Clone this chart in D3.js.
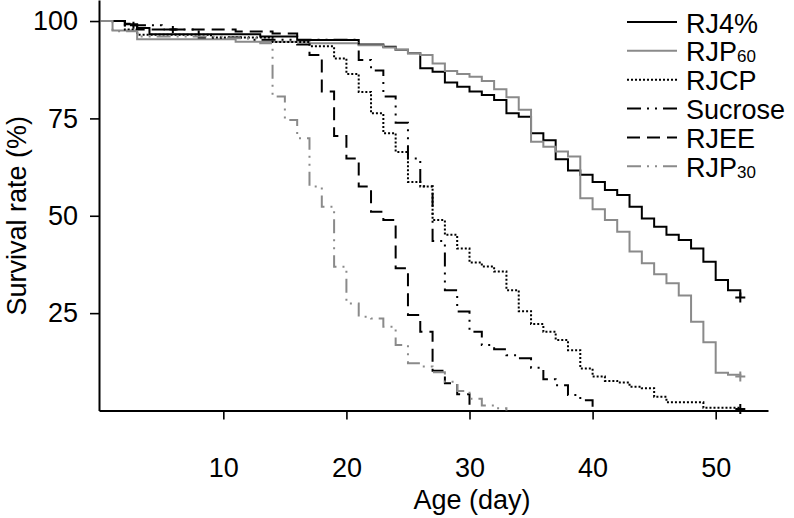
<!DOCTYPE html>
<html><head><meta charset="utf-8">
<script src="https://cdn.jsdelivr.net/npm/d3@7"></script>
<style>
body{margin:0;background:#fff}
svg{display:block}
text{font-family:"Liberation Sans",Arial,Helvetica,sans-serif;fill:#000}
</style>
</head><body>
<svg id="chart" width="794" height="518"></svg>
<script>
// ---- data (day, survival %) ----
const seriesNames = ["RJ4%", "RJP60", "RJCP", "Sucrose", "RJEE", "RJP30"];

const rj4Data = [[0,100],[2,99.2],[3,98.2],[4,96.6],[13,96.0],[16,95.1],[21,94.0],[23,93.4],[24,92.6],[25,91.7],[26,87.9],[27,87.0],[28,84.2],[29,83.1],[30,81.9],[31,81.0],[32,79.7],[33,76.3],[34,75.4],[35,71.2],[36,69.4],[37,64.5],[38,61.6],[39,60.5],[40,58.7],[41,56.6],[42,55.3],[43,52.3],[44,49.3],[45,47.2],[46,45.1],[47,43.8],[48,41.6],[49,38.2],[50,33.5],[51,30.9],[52,29.0]];

const rjp60Data = [[0,100],[1,97.6],[3,95.3],[11,94.7],[17,94.3],[21,93.8],[23,93.2],[24,92.6],[25,91.7],[26,91.3],[27,89.1],[28,87.2],[29,86.4],[30,85.7],[31,84.6],[32,82.5],[33,80.4],[34,77.2],[35,69.0],[36,67.7],[37,66.5],[38,65.2],[39,54.5],[40,51.7],[41,48.9],[42,45.9],[43,40.8],[44,37.8],[45,35.0],[46,32.7],[47,29.5],[48,22.8],[49,17.5],[50,9.7],[51,9.2],[52,8.7]];

const rjcpData = [[0,100],[2,97.8],[3,96.5],[9,95.8],[14,94.6],[17,93.5],[19,90.4],[20,86.4],[21,81.8],[22,76.3],[23,71.2],[24,66.4],[25,58.7],[26,57.5],[27,48.9],[28,45.1],[29,41.6],[30,38.0],[31,37.0],[32,35.7],[33,30.9],[34,25.5],[35,22.2],[36,20.2],[37,18.1],[38,15.5],[39,10.8],[40,8.7],[41,7.6],[42,7.2],[43,6.1],[44,5.7],[45,3.5],[46,2.1],[49,0.7],[52,0.4]];

const sucroseData = [[0,100],[2,98.9],[5,97.8],[8,95.8],[12,95.2],[21,90.0],[22,87.3],[23,80.6],[24,73.9],[25,64.7],[26,57.6],[27,43.5],[28,30.9],[29,25.4],[30,20.2],[31,16.8],[32,15.7],[33,14.2],[34,13.4],[35,11.0],[36,8.0],[37,6.5],[38,4.0],[39,2.6],[40,0]];

const rjeeData = [[0,100],[2,99.3],[3,97.8],[11,97.3],[14,96.8],[16,94.0],[17,91.3],[18,81.9],[19,70.5],[20,64.7],[21,57.5],[22,51.0],[23,48.9],[24,36.5],[25,24.5],[26,20.2],[27,10.2],[28,7.0],[29,4.2],[30,0]];

const rjp30Data = [[0,100],[1,97.4],[3,96.0],[10,95.6],[13,94.3],[14,80.6],[15,74.6],[16,69.9],[17,57.5],[18,52.3],[19,36.9],[20,27.5],[21,24.1],[22,23.6],[23,21.5],[24,16.8],[25,12.1],[26,11.3],[27,9.8],[28,7.4],[29,5.0],[30,3.0],[31,1.3],[32,0.6],[33,0]];

// censoring times (+ marks)
const rj4Censor = [52];
const rjp60Censor = [52];
const rjcpCensor = [52];
const sucroseCensor = [2.7, 5.9];
const rjeeCensor = [];
const rjp30Censor = [];

const xTickValues = [10, 20, 30, 40, 50];
const yTickValues = [25, 50, 75, 100];
const xTitle = "Age (day)";
const yTitle = "Survival rate (%)";

// ---- styles ----
const GRAY = "#8a8a8a";
const styles = [
  {color:"#000", dash:null},
  {color:GRAY, dash:null},
  {color:"#000", dash:"2,2"},
  {color:"#000", dash:"14,6,2,6,2,6"},
  {color:"#000", dash:"13,7"},
  {color:GRAY, dash:"14,6,2,6,2,6"}
];
const allData = [rj4Data, rjp60Data, rjcpData, sucroseData, rjeeData, rjp30Data];
const allCensor = [rj4Censor, rjp60Censor, rjcpCensor, sucroseCensor, rjeeCensor, rjp30Censor];

const svg = d3.select("#chart");
const x = d3.scaleLinear().domain([-0.1, 54.25]).range([99, 768]);
const y = d3.scaleLinear().domain([0, 105.4]).range([410.5, 0]);

const FS = 27, FT = 27;
const FONT = '"Liberation Sans",Arial,sans-serif';

// axes
const gx = svg.append("g").attr("transform", `translate(0,${y(0)})`)
  .call(d3.axisBottom(x).tickValues(xTickValues).tickSize(9).tickSizeOuter(0).tickPadding(38).tickFormat(d3.format("d")));
const gy = svg.append("g").attr("transform", `translate(${x(-0.1)},0)`)
  .call(d3.axisLeft(y).tickValues(yTickValues).tickSize(9).tickSizeOuter(0).tickPadding(12).tickFormat(d3.format("d")));
[gx, gy].forEach(g => {
  g.selectAll("path.domain").attr("stroke", "#000").attr("stroke-width", 2);
  g.selectAll(".tick line").attr("stroke", "#000").attr("stroke-width", 1.6);
  g.selectAll(".tick text").attr("font-size", FS).attr("font-family", FONT).attr("fill", "#000");
});

// titles
svg.append("text").attr("x", x(30.2)).attr("y", 509)
  .attr("text-anchor", "middle").attr("font-size", FT).text(xTitle);
svg.append("text").attr("transform", `translate(26,${y(50)}) rotate(-90)`)
  .attr("text-anchor", "middle").attr("font-size", FT).text(yTitle);

// curves
const line = d3.line().x(d => x(d[0])).y(d => y(d[1])).curve(d3.curveStepAfter);
const survAt = (data, t) => { let v = data[0][1]; for (const d of data) { if (d[0] <= t) v = d[1]; } return v; };

allData.forEach((data, i) => {
  const st = styles[i];
  svg.append("path").datum(data).attr("d", line)
    .attr("fill", "none").attr("stroke", st.color).attr("stroke-width", 2)
    .attr("stroke-dasharray", st.dash);
  allCensor[i].forEach(t => {
    const cx = x(t), cy = y(survAt(data, t));
    const s = i === 3 ? 3.5 : 5;
    svg.append("path").attr("d", `M${cx - s},${cy}H${cx + s}M${cx},${cy - s}V${cy + s}`)
      .attr("stroke", st.color).attr("stroke-width", 2).attr("fill", "none");
  });
});

// legend
const legX1 = 627, legX2 = 677, legTx = 686, legBase0 = 32.5, legDy = 28.85;
seriesNames.forEach((name, i) => {
  const st = styles[i];
  const base = legBase0 + i * legDy;
  const cy = base - 10.5;
  svg.append("line").attr("x1", legX1).attr("x2", legX2).attr("y1", cy).attr("y2", cy)
    .attr("stroke", st.color).attr("stroke-width", 2).attr("stroke-dasharray", st.dash);
  const m = name.match(/^(RJP)(\d+)$/);
  const t = svg.append("text").attr("x", legTx).attr("y", base).attr("font-size", FS);
  if (m) {
    t.append("tspan").text(m[1]);
    t.append("tspan").attr("font-size", 17).attr("dy", 1).text(m[2]);
  } else {
    t.text(name);
  }
});
</script>
</body></html>
